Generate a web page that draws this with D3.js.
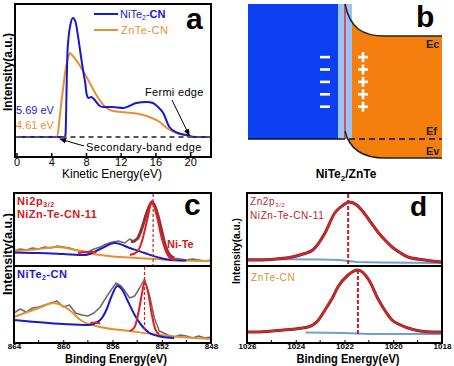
<!DOCTYPE html>
<html>
<head>
<meta charset="utf-8">
<script src="https://cdn.jsdelivr.net/npm/d3@7"></script>
<style>
  body { margin: 0; background: #fff; }
  svg { display: block; font-family: "Liberation Sans", Arial, sans-serif; }
</style>
</head>
<body>
<svg id="fig" width="454" height="366"></svg>
<script>
// ---- panel a : UPS spectra ----
const aTicks = [0, 4, 8, 12, 16, 20];
const blueE = [0, 2, 4, 5, 5.55, 5.65, 5.75, 5.85, 6.0, 6.2, 6.5, 6.8, 7.1, 7.4, 7.7, 7.9, 8.1, 8.3, 8.6, 9.0, 9.6, 10, 11, 12.3, 13, 13.8, 15, 15.7, 16.3, 16.9, 17.6, 18.6, 19.5, 20.5, 22.4];
const blueI = [0, 0, 0, 0, 0, 3, 40, 80, 100, 112, 119, 115, 100, 82, 65, 55, 42, 39, 40, 37, 31, 30, 30, 29, 31, 34, 35, 34, 30, 24, 10, 4, 2, 0, 0];
const orangeE = [0, 2, 4, 4.61, 5.2, 5.7, 6.0, 6.15, 6.4, 7.1, 8.07, 9.2, 10, 10.75, 12, 13.4, 15.3, 16.5, 17.3, 18.4, 19.4, 20.5, 22.4];
const orangeI = [0, 0, 0, 0, 37, 70, 81, 84, 82, 74, 60, 42, 32, 27, 25, 24, 20, 15, 9, 4, 2, 0, 0];

// ---- panel c : Ni 2p3/2 XPS ----
const cTicks = [864, 860, 856, 852, 848];
const cMinor = [862, 858, 854, 850];
const cTopGray = [[864,15],[863.5,17],[863,16],[862.5,18],[862,17],[861.5,19],[861,18],[860.5,20],[860,19],[859.5,18],[859,16],[858.5,15],[858,14],[857.5,17],[857,19],[856.5,22],[856,24],[855.5,25],[855,23],[854.6,27],[854.2,24],[853.9,30],[853.6,40],[853.3,52],[853,60],[852.8,65],[852.6,60],[852.3,48],[852,32],[851.7,18],[851.4,12],[851,8],[850.5,7],[850,6],[849.5,7],[849,6],[848.5,5],[848,6]];
const cTopEnv = [[854.5,24],[854,27],[853.6,38],[853.3,50],[853,60],[852.8,64],[852.6,61],[852.3,50],[852,35],[851.7,20],[851.4,12],[851,8]];
const cTopOrange = [[864,15],[862,17],[860.5,19],[859,16],[858,13],[857,11],[856,9.5],[854,8],[852,6.5],[850,5.5],[848,5]];
const cTopBlue = [[864,13.5],[862,13],[860,12],[858.2,11],[857,17],[855.8,23],[854.6,18],[853.4,13],[852.1,8],[851.3,6],[850,5.5]];
const cTopRed = [[854.6,11],[854,14],[853.6,25],[853.2,45],[852.8,64],[852.4,50],[852,28],[851.6,13],[851.2,7],[850.8,6]];
const cTopRed2 = [[858.8,13],[858.3,13.8],[857.8,14.2],[857.3,13.6]];
const cBotGray = [[864,30],[863.5,34],[863,31],[862.5,35],[862,36],[861.5,38],[861,40],[860.5,42],[860,36],[859.5,38],[859,30],[858.5,28],[858,27],[857.5,30],[857,36],[856.5,46],[856,55],[855.7,60],[855.3,57],[855,52],[854.6,45],[854.2,47],[853.8,55],[853.4,64],[853,48],[852.6,25],[852.2,12],[851.5,8],[851,6],[850.5,8],[850,7],[849.5,5],[849,7],[848.5,5],[848,6]];
const cBotOrange = [[864,26],[862,35],[860.8,40],[859.5,33],[858.6,23],[857,16],[854.6,12],[852.1,8],[850,5.5],[848,4]];
const cBotBlue = [[864,23],[860,19],[858,18],[857,23],[856.5,33],[856.1,46],[855.6,57],[855.2,53],[854.8,43],[854.2,28],[853.6,17],[853,10],[852.3,7],[851,5]];
const cBotRed = [[854.6,12],[854.2,16],[853.9,30],[853.6,50],[853.4,61],[853.1,50],[852.8,28],[852.5,13],[852.2,9]];
const cBotRed2 = [[857.8,20],[857.4,20.5],[857,19.5]];
const cPeakTop = 852.7, cPeakBot = 853.4;

// ---- panel d : Zn 2p3/2 XPS ----
const dTicks = [1026, 1024, 1022, 1020, 1018];
const dMinor = [1025, 1023, 1021, 1019];
const dTopFit = [[1026,6],[1025.5,6],[1024.8,7],[1024.15,9],[1023.7,12],[1023.3,16],[1022.8,33],[1022.4,53],[1022.1,60],[1021.8,64],[1021.5,61],[1021.2,53],[1020.9,43],[1020.6,33],[1020.3,25],[1020.05,19],[1019.7,13],[1019.4,9],[1018.7,6],[1018,4]];
const dTopBase = [[1026,7],[1023,6.5],[1022.2,6],[1021.5,4],[1020.5,3.5],[1018,3]];
const dBotFit = [[1026,11],[1025.5,11],[1024.5,13],[1023.5,16],[1023.1,22],[1022.8,33],[1022.5,45],[1022.27,56],[1021.85,68],[1021.45,73],[1021.0,63],[1020.6,43],[1020.3,31],[1020.05,23],[1019.7,18],[1019.4,15],[1018.4,11],[1018,11]];
const dBotBase = [[1023.6,10.5],[1022,10],[1021,9],[1018,9]];
const dPeakTop = 1021.85, dPeakBot = 1021.45;

// ---- panel b : band diagram labels ----
const bandLabels = ["Ec", "Ef", "Ev"];
const chargeRows = [0, 1, 2, 3, 4];

const svg = d3.select("#fig");
const FONT = "'Liberation Sans', Arial, sans-serif";

function frame(x0, y0, x1, y1) {
  svg.append("rect").attr("x", x0).attr("y", y0).attr("width", x1 - x0).attr("height", y1 - y0)
    .attr("fill", "none").attr("stroke", "#000").attr("stroke-width", 2);
}
function line(x, y, pts, color, w, curve) {
  svg.append("path").datum(pts)
    .attr("d", d3.line().x(d => x(d[0])).y(d => y(d[1])).curve(curve || d3.curveMonotoneX))
    .attr("fill", "none").attr("stroke", color).attr("stroke-width", w).attr("stroke-linejoin", "round");
}
function ylabel(x, cy, size, len) {
  svg.append("text").attr("transform", `translate(${x},${cy}) rotate(-90)`)
    .attr("text-anchor", "middle").attr("font-size", size).attr("font-weight", "bold")
    .attr("textLength", len).attr("lengthAdjust", "spacingAndGlyphs")
    .text("Intensity(a.u.)");
}
function xpsAxis(scale, major, minor) {
  svg.append("g").attr("transform", "translate(0,343)")
    .call(d3.axisBottom(scale).tickValues(major).tickFormat(d3.format("d"))
      .tickSizeInner(-3).tickSizeOuter(0).tickPadding(0))
    .call(g => g.select(".domain").remove())
    .call(g => g.selectAll("text").attr("font-size", 8).attr("font-weight", "bold").attr("font-family", FONT));
  svg.append("g").selectAll("line").data(minor).join("line")
    .attr("x1", d => scale(d)).attr("x2", d => scale(d)).attr("y1", 343).attr("y2", 340)
    .attr("stroke", "#000");
}

// ================= panel a =================
const ax = d3.scaleLinear().domain([0, 22.4]).range([16.5, 211]);
const ay = d3.scaleLinear().domain([-20, 133]).range([157, 4]);

line(ax, ay, orangeE.map((e, i) => [e, orangeI[i]]), "#e8902e", 2);
line(ax, ay, blueE.map((e, i) => [e, blueI[i]]), "#1818d0", 2);
svg.append("line").attr("x1", ax(0)).attr("x2", ax(22.4)).attr("y1", ay(0)).attr("y2", ay(0))
  .attr("stroke", "#555").attr("stroke-width", 2).attr("stroke-dasharray", "5,4");

frame(15, 4, 211, 157);
svg.append("g").attr("transform", "translate(0,157)")
  .call(d3.axisBottom(ax).tickValues(aTicks).tickSizeInner(-4).tickSizeOuter(0).tickPadding(1))
  .call(g => g.select(".domain").remove())
  .call(g => g.selectAll("line").attr("stroke-width", 1.5))
  .call(g => g.selectAll("text").attr("font-size", 11).attr("font-family", FONT));
svg.append("text").attr("x", 112).attr("y", 178).attr("text-anchor", "middle")
  .attr("font-size", 12).attr("textLength", 100).text("Kinetic Energy(eV)");
ylabel(12, 72, 12, 78);

// legend
svg.append("line").attr("x1", 94).attr("x2", 118).attr("y1", 14).attr("y2", 14).attr("stroke", "#1818d0").attr("stroke-width", 2);
svg.append("line").attr("x1", 94).attr("x2", 118).attr("y1", 30).attr("y2", 30).attr("stroke", "#e8902e").attr("stroke-width", 2);
const l1 = svg.append("text").attr("x", 120).attr("y", 18).attr("font-size", 11).attr("fill", "#1818d0");
l1.append("tspan").text("NiTe");
l1.append("tspan").attr("font-size", 7).attr("dy", 2).text("2");
l1.append("tspan").attr("dy", -2).text("-");
l1.append("tspan").attr("font-weight", "bold").text("CN");
svg.append("text").attr("x", 121).attr("y", 34).attr("font-size", 11).attr("fill", "#e8902e").attr("letter-spacing", 0.5).text("ZnTe-CN");
svg.append("text").attr("x", 186).attr("y", 29).attr("font-size", 30).attr("font-weight", "bold").text("a");

svg.append("text").attr("x", 16).attr("y", 114).attr("font-size", 11).attr("fill", "#1818d0").text("5.69 eV");
svg.append("text").attr("x", 16).attr("y", 129).attr("font-size", 11).attr("fill", "#e8902e").text("4.61 eV");
svg.append("text").attr("x", 145).attr("y", 96).attr("font-size", 11).attr("letter-spacing", 0.3).text("Fermi edge");
svg.append("text").attr("x", 86).attr("y", 151).attr("font-size", 11).attr("letter-spacing", 0.4).text("Secondary-band edge");

const defs = svg.append("defs");
defs.append("marker").attr("id", "arr").attr("viewBox", "0 0 10 10").attr("refX", 9).attr("refY", 5)
  .attr("markerWidth", 7).attr("markerHeight", 7).attr("orient", "auto")
  .append("path").attr("d", "M0,1 L10,5 L0,9 Z").attr("fill", "#000");
svg.append("line").attr("x1", 172).attr("y1", 100).attr("x2", ax(19.9)).attr("y2", ay(1.5))
  .attr("stroke", "#000").attr("stroke-width", 1).attr("marker-end", "url(#arr)");
svg.append("line").attr("x1", 84).attr("y1", 146).attr("x2", ax(5)).attr("y2", ay(-2))
  .attr("stroke", "#000").attr("stroke-width", 1).attr("marker-end", "url(#arr)");

// ================= panel b =================
const bx0 = 248, bx1 = 442, bJ = 345, bEf = 139;
svg.append("rect").attr("x", bx0).attr("y", 4).attr("width", 338 - bx0).attr("height", bEf - 4).attr("fill", "#0c3ef2");
const orangePath = d3.path();
orangePath.moveTo(bJ, 4);
orangePath.bezierCurveTo(350, 28, 362, 36, 385, 36);
orangePath.lineTo(bx1, 36);
orangePath.lineTo(bx1, 158);
orangePath.lineTo(385, 158);
orangePath.bezierCurveTo(362, 158, 349, 148, bJ, 131);
orangePath.closePath();
svg.append("path").attr("d", orangePath.toString()).attr("fill", "#f57f0c");
svg.append("rect").attr("x", 338).attr("y", 4).attr("width", 14).attr("height", bEf - 4).attr("fill", "#9cc4f2");
svg.append("line").attr("x1", bJ).attr("x2", bJ).attr("y1", 4).attr("y2", bEf).attr("stroke", "#d8344a").attr("stroke-width", 1.6);
const ecPath = d3.path();
ecPath.moveTo(bJ, 4); ecPath.bezierCurveTo(350, 28, 362, 36, 385, 36); ecPath.lineTo(bx1, 36);
svg.append("path").attr("d", ecPath.toString()).attr("fill", "none").attr("stroke", "#222").attr("stroke-width", 1.5);
const evPath = d3.path();
evPath.moveTo(bJ, 131); evPath.bezierCurveTo(349, 148, 362, 158, 385, 158); evPath.lineTo(bx1, 158);
svg.append("path").attr("d", evPath.toString()).attr("fill", "none").attr("stroke", "#222").attr("stroke-width", 1.5);
svg.append("line").attr("x1", bx0).attr("x2", bJ).attr("y1", bEf).attr("y2", bEf).attr("stroke", "#111").attr("stroke-width", 1.5);
svg.append("line").attr("x1", 349).attr("x2", bx1).attr("y1", bEf).attr("y2", bEf).attr("stroke", "#111").attr("stroke-width", 1.5).attr("stroke-dasharray", "6,4");
const byLab = [48, 135, 155];
bandLabels.forEach((t, i) => svg.append("text").attr("x", 426).attr("y", byLab[i]).attr("font-size", 11).attr("font-weight", "bold").attr("fill", "#222").text(t));
chargeRows.forEach(i => {
  const cy = 57 + i * 12.4;
  svg.append("rect").attr("x", 320).attr("y", cy - 1.2).attr("width", 10).attr("height", 2.6).attr("fill", "#fff");
  svg.append("rect").attr("x", 358).attr("y", cy - 1.2).attr("width", 10).attr("height", 2.6).attr("fill", "#fff");
  svg.append("rect").attr("x", 361.7).attr("y", cy - 4.9).attr("width", 2.6).attr("height", 10).attr("fill", "#fff");
});
svg.append("text").attr("x", 416).attr("y", 27).attr("font-size", 30).attr("font-weight", "bold").text("b");
const bt = svg.append("text").attr("x", 346).attr("y", 178).attr("text-anchor", "middle").attr("font-size", 12).attr("font-weight", "bold");
bt.append("tspan").text("NiTe");
bt.append("tspan").attr("font-size", 8).attr("dy", 3).text("2");
bt.append("tspan").attr("dy", -3).text("/ZnTe");

// ================= panel c =================
const cx = d3.scaleLinear().domain([864, 848]).range([14, 211]);
const cyT = d3.scaleLinear().domain([0, 73]).range([266, 193]);
const cyB = d3.scaleLinear().domain([0, 77]).range([343, 266]);

line(cx, cyT, cTopGray, "#6a6a6a", 1.5, d3.curveLinear);
line(cx, cyT, cTopOrange, "#e8902e", 2);
line(cx, cyT, cTopBlue, "#1a1ac8", 2);
line(cx, cyT, cTopRed2, "#e02020", 2);
line(cx, cyT, cTopEnv, "#8e3434", 3);
line(cx, cyT, cTopRed, "#e02020", 2);
svg.append("line").attr("x1", cx(cPeakTop)).attr("x2", cx(cPeakTop)).attr("y1", 194).attr("y2", 265)
  .attr("stroke", "#d02020").attr("stroke-width", 1.2).attr("stroke-dasharray", "3,2");

line(cx, cyB, cBotGray, "#6a6a6a", 1.5, d3.curveLinear);
line(cx, cyB, cBotOrange, "#e8902e", 2);
line(cx, cyB, cBotBlue, "#1a1ac8", 2);
line(cx, cyB, cBotRed2, "#e02020", 2);
line(cx, cyB, cBotRed, "#e02020", 2);
svg.append("line").attr("x1", cx(cPeakBot)).attr("x2", cx(cPeakBot)).attr("y1", 267).attr("y2", 330)
  .attr("stroke", "#d02020").attr("stroke-width", 1.2).attr("stroke-dasharray", "3,2");

frame(14, 193, 211, 343);
svg.append("line").attr("x1", 14).attr("x2", 211).attr("y1", 266).attr("y2", 266).attr("stroke", "#000").attr("stroke-width", 2);
xpsAxis(cx, cTicks, cMinor);
svg.append("text").attr("x", 116).attr("y", 363).attr("text-anchor", "middle").attr("font-size", 12)
  .attr("font-weight", "bold").attr("textLength", 102).attr("lengthAdjust", "spacingAndGlyphs").text("Binding Energy(eV)");
ylabel(12, 254, 12, 82);

const cl1 = svg.append("text").attr("x", 17).attr("y", 205).attr("font-size", 11).attr("font-weight", "bold").attr("fill", "#d02020").attr("letter-spacing", 0.6);
cl1.append("tspan").text("Ni2p");
cl1.append("tspan").attr("font-size", 7).attr("dy", 2).text("3/2");
svg.append("text").attr("x", 17).attr("y", 218).attr("font-size", 11).attr("font-weight", "bold").attr("fill", "#d02020").attr("letter-spacing", 0.4).text("NiZn-Te-CN-11");
svg.append("text").attr("x", 167).attr("y", 248).attr("font-size", 11).attr("font-weight", "bold").attr("fill", "#d02020").text("Ni-Te");
svg.append("text").attr("x", 184).attr("y", 215).attr("font-size", 30).attr("font-weight", "bold").text("c");
const cl3 = svg.append("text").attr("x", 17).attr("y", 278).attr("font-size", 11).attr("font-weight", "bold").attr("fill", "#1a1ac8").attr("letter-spacing", 0.5);
cl3.append("tspan").text("NiTe");
cl3.append("tspan").attr("font-size", 7).attr("dy", 2).text("2");
cl3.append("tspan").attr("dy", -2).text("-CN");

// ================= panel d =================
const dx = d3.scaleLinear().domain([1026, 1018]).range([247, 442]);
const dyT = d3.scaleLinear().domain([0, 73]).range([266, 193]);
const dyB = d3.scaleLinear().domain([0, 77]).range([343, 266]);

line(dx, dyT, dTopBase, "#6e9fcf", 2, d3.curveLinear);
line(dx, dyT, dTopFit, "#6a2a2a", 3);
line(dx, dyT, dTopFit, "#d82424", 2);
svg.append("line").attr("x1", dx(dPeakTop)).attr("x2", dx(dPeakTop)).attr("y1", 194).attr("y2", 265)
  .attr("stroke", "#c02020").attr("stroke-width", 2).attr("stroke-dasharray", "4,2");
line(dx, dyB, dBotBase, "#6e9fcf", 2, d3.curveLinear);
line(dx, dyB, dBotFit, "#6a2a2a", 3);
line(dx, dyB, dBotFit, "#d82424", 2);
svg.append("line").attr("x1", dx(dPeakBot)).attr("x2", dx(dPeakBot)).attr("y1", 270).attr("y2", 334)
  .attr("stroke", "#c02020").attr("stroke-width", 2).attr("stroke-dasharray", "4,2");

frame(247, 193, 442, 343);
svg.append("line").attr("x1", 247).attr("x2", 442).attr("y1", 266).attr("y2", 266).attr("stroke", "#000").attr("stroke-width", 2);
xpsAxis(dx, dTicks, dMinor);
svg.append("text").attr("x", 348).attr("y", 363).attr("text-anchor", "middle").attr("font-size", 12)
  .attr("font-weight", "bold").attr("textLength", 103).attr("lengthAdjust", "spacingAndGlyphs").text("Binding Energy(eV)");
ylabel(240, 251, 11, 66);

const dl1 = svg.append("text").attr("x", 250).attr("y", 205).attr("font-size", 10).attr("fill", "#b82828").attr("letter-spacing", 0.6);
dl1.append("tspan").text("Zn2p");
dl1.append("tspan").attr("font-size", 6).attr("dy", 2).text("3/2");
svg.append("text").attr("x", 250).attr("y", 219).attr("font-size", 10).attr("fill", "#b82828").attr("letter-spacing", 0.6).text("NiZn-Te-CN-11");
svg.append("text").attr("x", 251).attr("y", 281).attr("font-size", 10).attr("fill", "#d8902e").attr("letter-spacing", 0.6).text("ZnTe-CN");
svg.append("text").attr("x", 410).attr("y", 216).attr("font-size", 28).attr("font-weight", "bold").text("d");
</script>
</body>
</html>
